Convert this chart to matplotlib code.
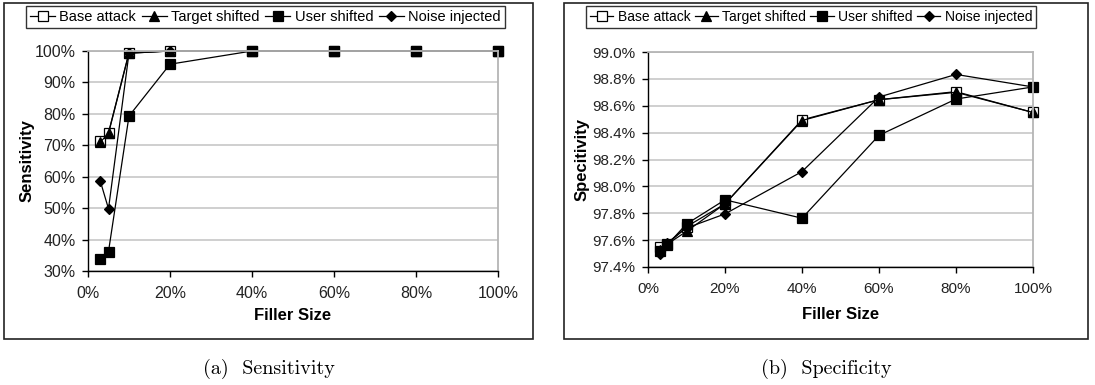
import matplotlib
matplotlib.use("Agg")
import matplotlib.pyplot as plt
from matplotlib.patches import Rectangle
from matplotlib.ticker import FuncFormatter

plt.rcParams["font.family"] = ["Liberation Sans", "DejaVu Sans"]

# ── data ──────────────────────────────────────────────────────────────────────
filler = [3, 5, 10, 20, 40, 60, 80, 100]          # filler size (%)
series_names = ["Base attack", "Target shifted", "User shifted", "Noise injected"]

sens_base   = [71.3, 74.0, 99.5, 100.0, 100.0, 100.0, 100.0, 100.0]
sens_target = [71.0, 73.8, 99.3, 100.0, 100.0, 100.0, 100.0, 100.0]
sens_user   = [33.7, 36.2, 79.3, 95.8, 100.0, 100.0, 100.0, 100.0]
sens_noise  = [58.6, 49.8, 99.3, 100.0, 100.0, 100.0, 100.0, 100.0]

spec_base   = [97.55, 97.57, 97.70, 97.87, 98.495, 98.645, 98.705, 98.55]
spec_target = [97.53, 97.57, 97.665, 97.87, 98.49, 98.645, 98.70, 98.55]
spec_user   = [97.52, 97.565, 97.72, 97.90, 97.763, 98.38, 98.65, 98.74]
spec_noise  = [97.50, 97.58, 97.69, 97.795, 98.11, 98.665, 98.833, 98.74]

# marker styles: (marker, facecolor, size)
STYLES = [("s", "white", 7.5), ("^", "black", 7), ("s", "black", 7.5), ("D", "black", 5)]

W, H = 1095, 385
fig = plt.figure(figsize=(W / 100, H / 100), dpi=100)


def px_rect(x0, y0, x1, y1):
    return [x0 / W, 1 - y1 / H, (x1 - x0) / W, (y1 - y0) / H]


def draw_panel(rect, box, legend_box, data, ylim, yticks, yfmt, ylabel,
               ylab_x, xlab_y, caption, leg_fs, leg_cs, tick_fs):
    # outer chart border
    fig.patches.append(Rectangle((box[0] / W, 1 - box[3] / H),
                                 (box[2] - box[0]) / W, (box[3] - box[1]) / H,
                                 transform=fig.transFigure, fill=False,
                                 edgecolor="#222222", lw=1.2))
    ax = fig.add_axes(rect)
    handles = []
    for vals, (m, fc, ms), name in zip(data, STYLES, series_names):
        h, = ax.plot(filler, vals, color="black", lw=0.9, marker=m, ms=ms,
                     mfc=fc, mec="black", mew=0.9, label=name, clip_on=False)
        handles.append(h)
    ax.set_xlim(0, 100)
    ax.set_ylim(*ylim)
    ax.set_xticks(range(0, 101, 20))
    ax.set_yticks(yticks)
    ax.xaxis.set_major_formatter(FuncFormatter(lambda v, p: f"{v:.0f}%"))
    ax.yaxis.set_major_formatter(FuncFormatter(yfmt))
    ax.grid(axis="y", color="#cccccc", lw=1.3)
    ax.set_axisbelow(True)
    for s in ("top", "right"):
        ax.spines[s].set_color("#b5b5b5")
        ax.spines[s].set_linewidth(1.3)
    for s in ("left", "bottom"):
        ax.spines[s].set_color("black")
        ax.spines[s].set_linewidth(1.0)
    ax.tick_params(direction="out", length=4, width=1, labelsize=tick_fs,
                   colors="black", labelcolor="#222222", pad=5)
    ax.tick_params(axis="x", pad=7)
    ax.set_xlabel("Filler Size", fontsize=12, fontweight="bold", va="center")
    ax.set_ylabel(ylabel, fontsize=12, fontweight="bold", va="center")
    ax.xaxis.set_label_coords(0.5, xlab_y)
    ax.yaxis.set_label_coords(ylab_x, 0.5)

    lx0, ly0, lx1, ly1 = legend_box
    leg = fig.legend(handles=handles, loc="center",
                     bbox_to_anchor=((lx0 + lx1) / 2 / W, 1 - (ly0 + ly1) / 2 / H),
                     ncol=4, fontsize=leg_fs, frameon=True, fancybox=False,
                     edgecolor="black", handlelength=1.7, handletextpad=0.3,
                     columnspacing=leg_cs, borderpad=0.3, borderaxespad=0)
    leg.get_frame().set_linewidth(1.0)

    fig.text((box[0] + box[2]) / 2 / W, 1 - 369 / H, caption, ha="center",
             va="center", fontsize=14.5, family="cmr10")
    return ax


draw_panel(px_rect(88, 51, 498, 271), (4, 3, 533, 339), (31, 5, 500, 29),
           [sens_base, sens_target, sens_user, sens_noise],
           (30, 100), range(30, 101, 10), lambda v, p: f"{v:.0f}%",
           "Sensitivity", -0.149, -0.20, "(a)  Sensitivity", 10.5, 0.4, 11.5)

draw_panel(px_rect(648, 52, 1033, 267), (564, 3, 1088, 339), (588, 5, 1034, 29),
           [spec_base, spec_target, spec_user, spec_noise],
           (97.4, 99.0), [97.4 + 0.2 * i for i in range(9)],
           lambda v, p: f"{v:.1f}%", "Specitivity", -0.172, -0.223,
           "(b)  Specificity", 10.0, 0.3, 11.0)

fig.savefig("out.png", dpi=100)
